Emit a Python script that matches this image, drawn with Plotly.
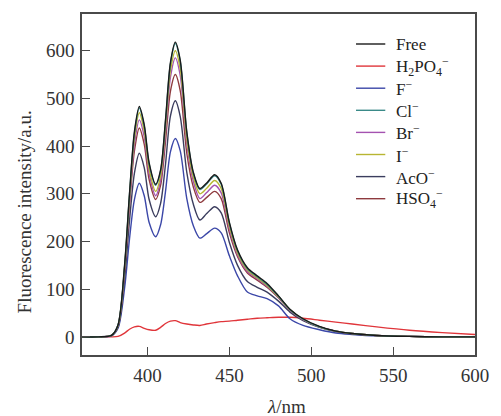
import plotly.graph_objects as go

wavelength = [360, 370, 378, 382, 386, 389, 392, 395, 398, 401, 405, 408, 411, 414, 417, 420, 424, 428, 432, 436, 441, 445, 450, 455, 461, 467, 473, 480, 487, 495, 505, 515, 525, 540, 560, 580, 600]

free  = [0, 0, 3, 25, 150, 300, 430, 483, 445, 365, 320, 350, 455, 575, 618, 580, 430, 345, 311, 322, 340, 322, 240, 182, 145, 128, 112, 86, 58, 38, 22, 12, 7, 3, 1, 0, 0]
cl    = [0, 0, 3, 25, 148, 298, 426, 480, 442, 362, 318, 348, 452, 572, 615, 577, 428, 343, 309, 320, 338, 320, 238, 180, 143, 126, 110, 85, 57, 37, 21, 12, 7, 3, 1, 0, 0]
iodide= [0, 0, 3, 24, 145, 292, 416, 470, 432, 352, 305, 338, 440, 558, 600, 562, 415, 335, 300, 311, 328, 311, 232, 176, 140, 124, 108, 84, 57, 37, 21, 12, 7, 3, 1, 0, 0]
br    = [0, 0, 3, 24, 142, 285, 404, 455, 420, 342, 296, 328, 428, 544, 585, 548, 405, 326, 290, 302, 318, 302, 226, 172, 137, 122, 106, 83, 56, 36, 21, 12, 7, 3, 1, 0, 0]
hso4  = [0, 0, 3, 23, 138, 276, 390, 438, 404, 330, 288, 318, 410, 515, 550, 516, 385, 314, 282, 292, 305, 290, 218, 168, 134, 119, 104, 82, 56, 36, 21, 12, 7, 3, 1, 0, 0]
aco   = [0, 0, 3, 21, 122, 243, 343, 385, 355, 288, 252, 280, 362, 463, 495, 462, 345, 278, 245, 258, 273, 260, 198, 150, 116, 104, 94, 75, 52, 34, 20, 11, 6, 3, 1, 0, 0]
fluor = [0, 0, 2, 18, 102, 205, 288, 322, 296, 240, 210, 235, 305, 388, 416, 390, 290, 233, 207, 216, 228, 218, 170, 128, 94, 86, 80, 65, 38, 24, 15, 8, 5, 2, 1, 0, 0]
h2po4 = [0, 0, 0, 1, 8, 16, 21, 22, 18, 15, 14, 20, 28, 33, 34, 30, 27, 25, 24, 27, 30, 32, 33, 35, 37, 39, 40, 41, 41, 39, 35, 31, 27, 21, 14, 9, 5]

x_ticks = [400, 450, 500, 550, 600]
y_ticks = [0, 100, 200, 300, 400, 500, 600]

series = [
    ("Free", free, "#1a1a1a"),
    ("H<sub>2</sub>PO<sub>4</sub><sup>−</sup>", h2po4, "#e0353a"),
    ("F<sup>−</sup>", fluor, "#3b47a8"),
    ("Cl<sup>−</sup>", cl, "#3a8a88"),
    ("Br<sup>−</sup>", br, "#a452b0"),
    ("I<sup>−</sup>", iodide, "#b8b532"),
    ("AcO<sup>−</sup>", aco, "#3b3d5e"),
    ("HSO<sub>4</sub><sup>−</sup>", hso4, "#8e3a3e"),
]

W, H = 501, 416
ML, MR, MT, MB = 82, 16, 14, 61
PW, PH = W - ML - MR, H - MT - MB


def px(x):
    return (x - ML) / PW


def py(y):
    return (H - MB - y) / PH


fig = go.Figure()
draw_order = [1, 2, 6, 7, 4, 5, 3, 0]
for i in draw_order:
    name, vals, col = series[i]
    fig.add_trace(go.Scatter(x=wavelength, y=vals, mode="lines", name=name,
                             line=dict(color=col, width=1.4, shape="spline", smoothing=0.8),
                             showlegend=False))

axis_common = dict(showline=True, linecolor="#4a4a4a", linewidth=1.5, mirror=True,
                   ticks="inside", ticklen=8, tickcolor="#4a4a4a", tickwidth=1.2,
                   showgrid=False, zeroline=False,
                   tickfont=dict(family="Liberation Serif", size=19, color="#333333"))

serif = dict(family="Liberation Serif", size=17, color="#222222")
annotations = [
    dict(text="Fluorescence intensity/a.u.", x=px(24), y=py(212), xref="paper", yref="paper",
         showarrow=False, textangle=-90, xanchor="center", yanchor="middle",
         font=dict(family="Liberation Serif", size=19, color="#333333")),
    dict(text="<i>λ</i>/nm", x=px(292), y=py(406), xref="paper", yref="paper",
         showarrow=False, xanchor="center", yanchor="middle",
         font=dict(family="Liberation Serif", size=19, color="#333333")),
]
shapes = []
for k, (name, vals, col) in enumerate(series):
    yc = 44 + 22.1 * k
    annotations.append(dict(text=name, x=px(402), y=py(yc), xref="paper", yref="paper",
                            showarrow=False, xanchor="left", yanchor="middle", font=serif))
    shapes.append(dict(type="line", xref="paper", yref="paper",
                       x0=px(363), x1=px(393), y0=py(yc), y1=py(yc),
                       line=dict(color=col, width=1.4)))

fig.update_layout(
    width=W, height=H,
    margin=dict(l=ML, r=MR, t=MT, b=MB),
    paper_bgcolor="white", plot_bgcolor="white",
    showlegend=False,
    xaxis=dict(range=[360, 600], tickvals=x_ticks, ticklabelstandoff=2, **axis_common),
    yaxis=dict(range=[-38, 677], tickvals=y_ticks, ticklabelstandoff=2, **axis_common),
    annotations=annotations,
    shapes=shapes,
)

fig.write_html("out.html", config={"displayModeBar": False},
               post_script="document.body.style.margin='0';document.body.style.padding='0';")
